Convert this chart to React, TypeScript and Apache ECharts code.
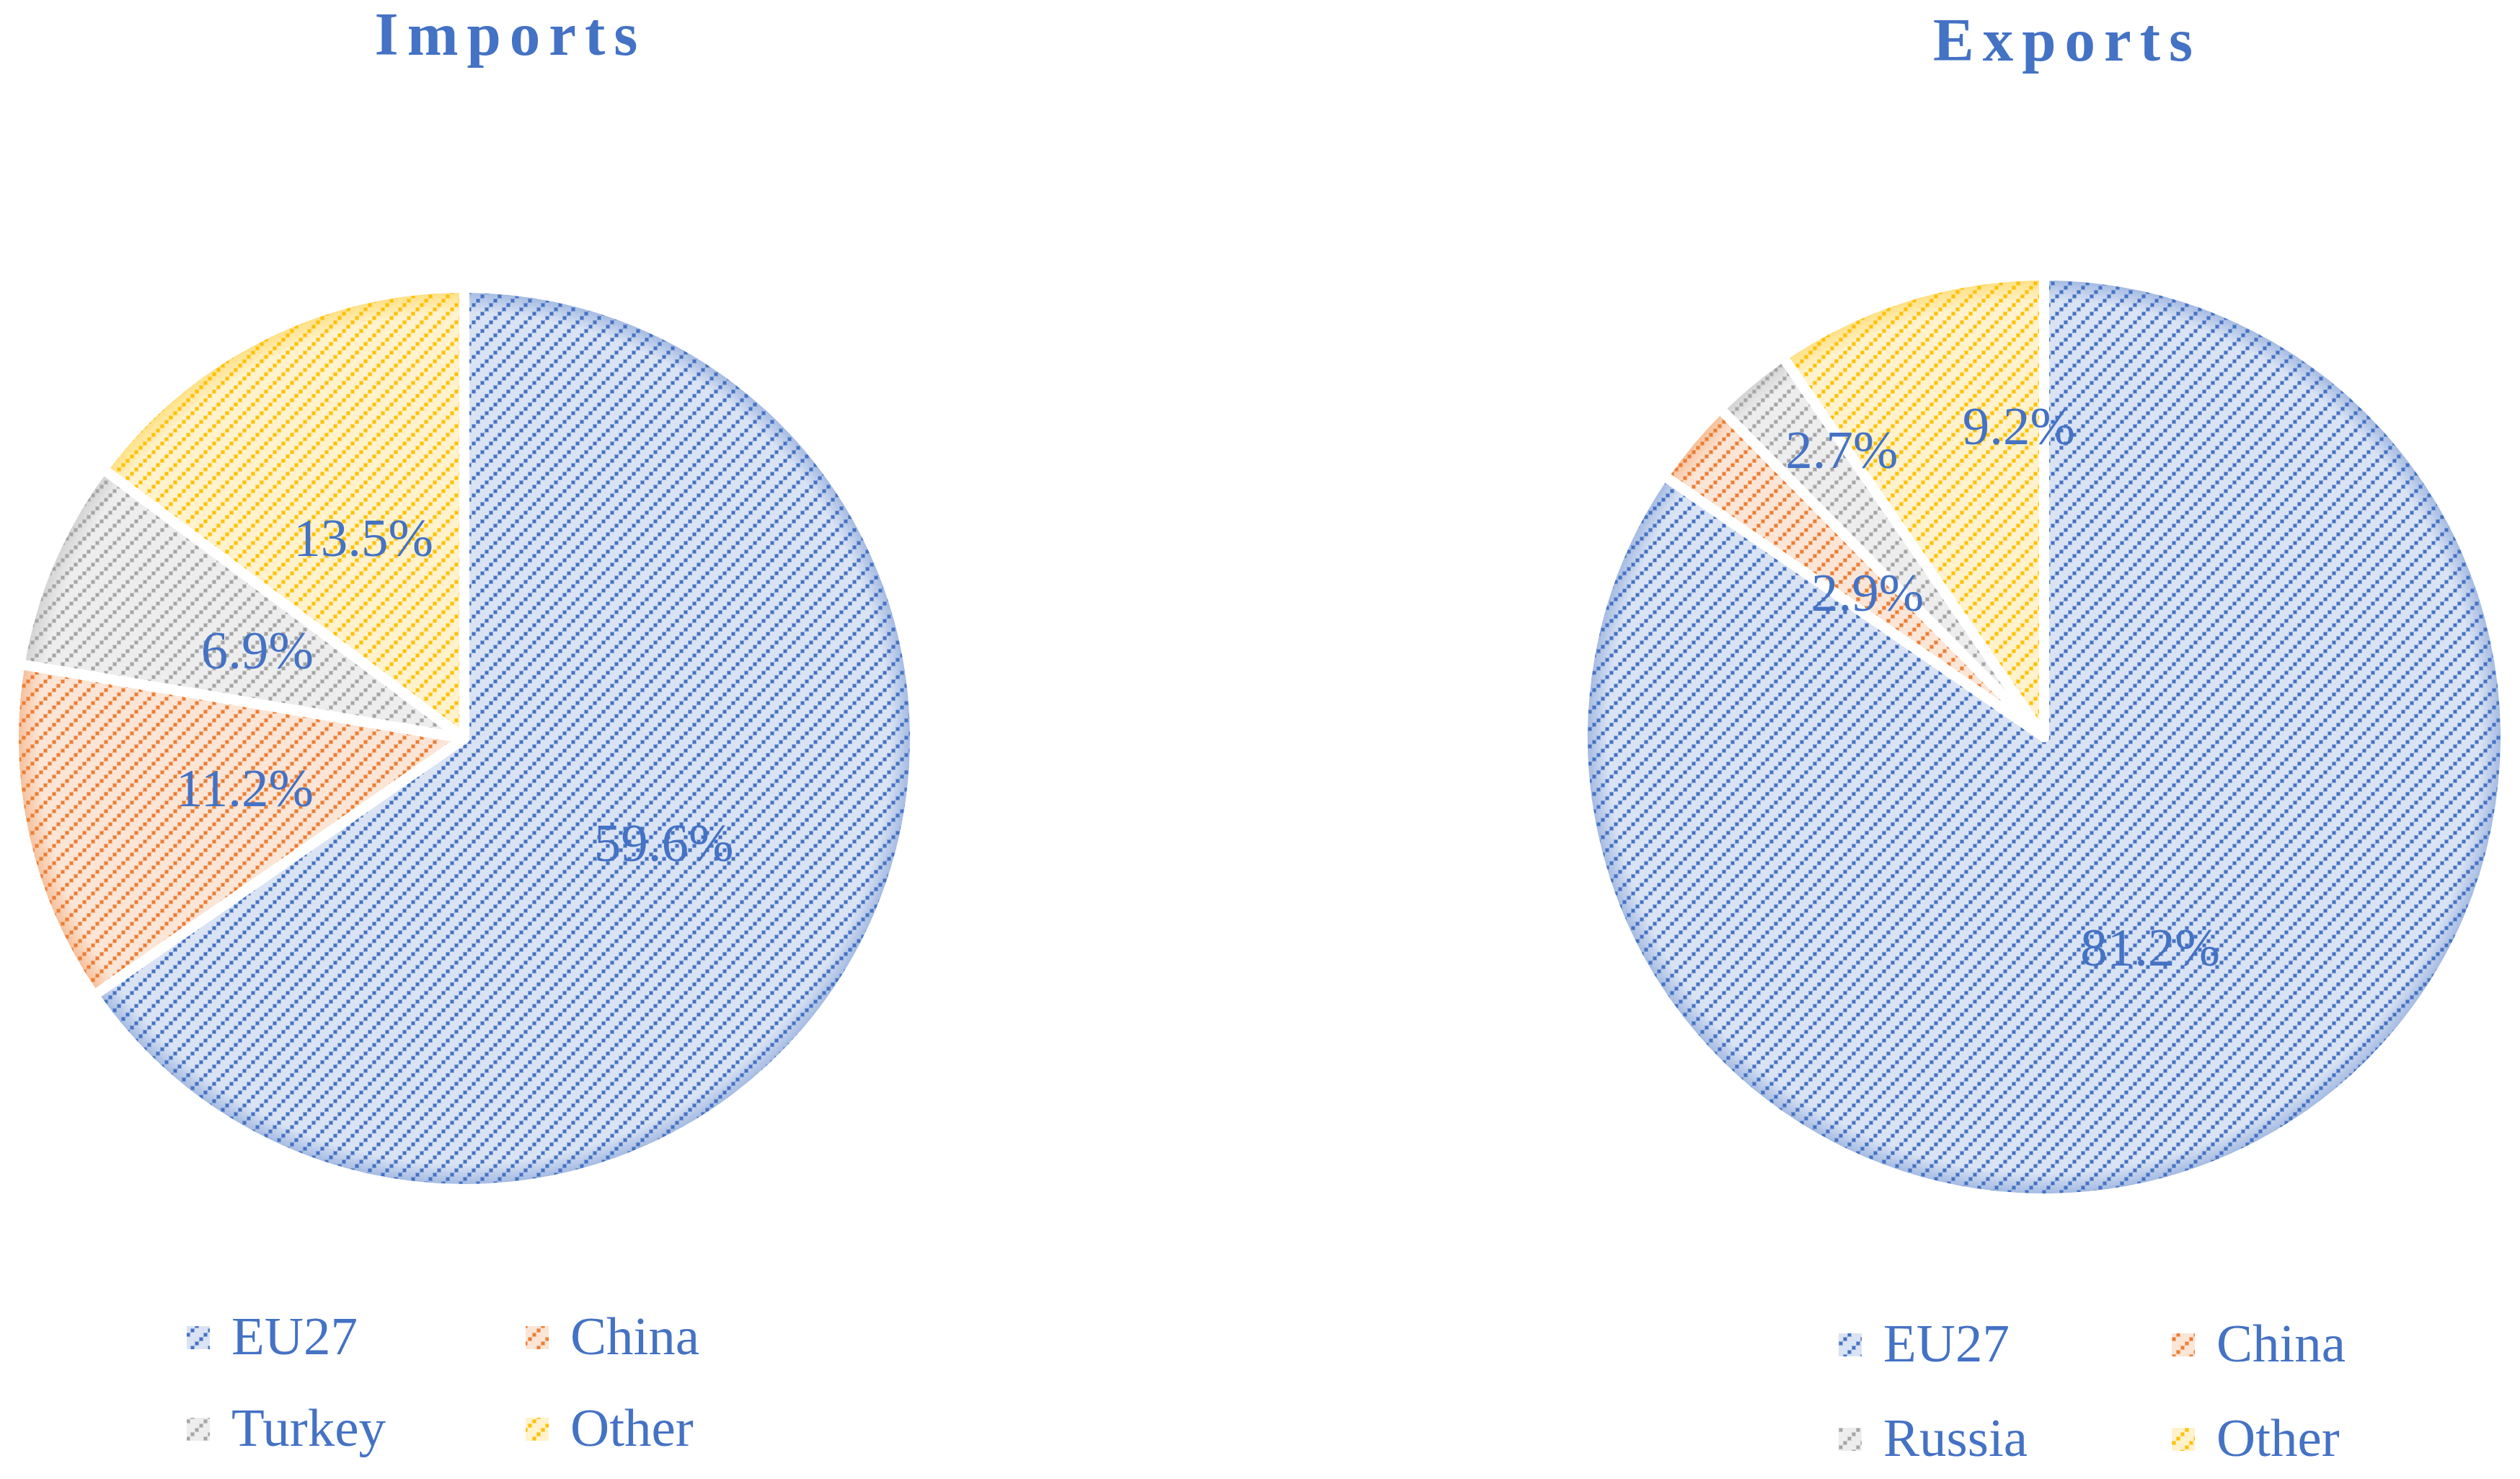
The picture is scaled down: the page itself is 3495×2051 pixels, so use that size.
import React, { useEffect, useRef } from 'react';
import * as echarts from 'echarts';

// ---------- data ----------
const chartTitles = ['Imports', 'Exports'];
const importCategories = ['EU27', 'China', 'Turkey', 'Other'];
const importValues = [59.6, 11.2, 6.9, 13.5];
const exportCategories = ['EU27', 'China', 'Russia', 'Other'];
const exportValues = [81.2, 2.9, 2.7, 9.2];

// ---------- styling ----------
const sliceDark = ['#4472c4', '#ed7d31', '#a5a5a5', '#ffc000'];
const sliceLight = ['#dae3f3', '#fbe5d6', '#ededed', '#fff2cc'];
const TEXT_BLUE = '#4472c4';
const FONT = '"Liberation Serif", "Times New Roman", serif';
const GAP = 14;

// label placement (fraction of radius, angular shift in degrees)
const importLabelPlace = [
  { f: 0.505, da: 0 },
  { f: 0.505, da: 0 },
  { f: 0.505, da: 0 },
  { f: 0.505, da: 0 },
];
const exportLabelPlace = [
  { f: 0.516, da: 1 },
  { f: 0.5, da: -0.6 },
  { f: 0.77, da: 4.4 },
  { f: 0.684, da: 12.6 },
];

function makeTile(bg: string, fg: string) {
  const w = 24;
  const h = 24;
  const c = document.createElement('canvas');
  c.width = w;
  c.height = h;
  const g = c.getContext('2d')!;
  g.fillStyle = bg;
  g.fillRect(0, 0, w, h);
  const dots = [
    [0, 18],
    [6, 12],
    [12, 6],
    [18, 0],
  ];
  dots.forEach(([x, y]) => {
    g.globalAlpha = 0.5;
    g.fillStyle = fg;
    g.fillRect(x, y, 6, 6);
    g.globalAlpha = 1;
    g.fillRect(x + 1, y + 1, 4, 4);
  });
  return { image: c.toDataURL(), imageWidth: w, imageHeight: h, repeat: 'repeat' };
}

function rgba(hex: string, a: number) {
  const n = parseInt(hex.slice(1), 16);
  return `rgba(${(n >> 16) & 255},${(n >> 8) & 255},${n & 255},${a})`;
}

function midAngles(values: number[]) {
  const total = values.reduce((s, v) => s + v, 0);
  let acc = 0;
  return values.map((v) => {
    const start = acc;
    acc += (v / total) * 360;
    return (start + acc) / 2;
  });
}

function buildPie(
  cats: string[],
  vals: number[],
  center: [number, number],
  visR: number,
  place: { f: number; da: number }[],
  tiles: any[]
) {
  const mids = midAngles(vals);
  const R = visR + GAP / 2;
  const common = {
    type: 'pie',
    center,
    radius: R,
    startAngle: 90,
    clockwise: true,
    silent: true,
    avoidLabelOverlap: false,
    emphasis: { disabled: true },
    labelLine: { show: false },
  };
  const base = {
    ...common,
    z: 2,
    label: { show: false },
    data: cats.map((c, i) => ({
      name: c,
      value: vals[i],
      itemStyle: { color: tiles[i], borderColor: '#ffffff', borderWidth: GAP },
    })),
  };
  const overlay = {
    ...common,
    z: 3,
    label: {
      show: true,
      position: 'inside',
      fontFamily: FONT,
      fontSize: 75,
      color: TEXT_BLUE,
      formatter: (p: any) => `${Number(p.value).toFixed(1)}%`,
    },
    labelLayout: (p: any) => {
      const i = p.dataIndex;
      const a = ((mids[i] + place[i].da) * Math.PI) / 180;
      const r = place[i].f * visR;
      return {
        x: center[0] + r * Math.sin(a),
        y: center[1] - r * Math.cos(a),
        align: 'center',
        verticalAlign: 'middle',
      };
    },
    data: cats.map((c, i) => ({
      name: c,
      value: vals[i],
      itemStyle: {
        color: {
          type: 'radial',
          x: center[0],
          y: center[1],
          r: visR,
          global: true,
          colorStops: [
            { offset: 0, color: rgba(sliceDark[i], 0) },
            { offset: 0.955, color: rgba(sliceDark[i], 0) },
            { offset: 1, color: rgba(sliceDark[i], 0.35) },
          ],
        },
        borderColor: '#ffffff',
        borderWidth: GAP,
      },
    })),
  };
  return [base, overlay];
}

function buildLegend(
  cats: string[],
  tiles: any[],
  origin: [number, number],
  colStep: number,
  rowStep: number
) {
  const els: any[] = [];
  cats.forEach((c, i) => {
    const col = i % 2;
    const row = Math.floor(i / 2);
    const mx = origin[0] + col * colStep;
    const my = origin[1] + row * rowStep;
    els.push({
      type: 'rect',
      shape: { x: mx, y: my, width: 32, height: 32 },
      style: { fill: tiles[i] },
      silent: true,
    });
    els.push({
      type: 'text',
      x: mx + 62,
      y: my + 13,
      silent: true,
      style: {
        text: c,
        fill: TEXT_BLUE,
        fontFamily: FONT,
        fontSize: 75,
        textAlign: 'left',
        align: 'left',
        textVerticalAlign: 'middle',
        verticalAlign: 'middle',
      },
    });
  });
  return els;
}

export default function App() {
  const ref = useRef<HTMLDivElement>(null);

  useEffect(() => {
    document.body.style.margin = '0';
    if (!ref.current) return;
    const chart = echarts.init(ref.current, undefined, { renderer: 'svg' });
    const tiles = sliceDark.map((d, i) => makeTile(sliceLight[i], d));

    const importCenter: [number, number] = [644, 1024];
    const exportCenter: [number, number] = [2835, 1022];

    const titleEls = [
      { text: chartTitles[0], x: 708, y: 4 },
      { text: chartTitles[1], x: 2867, y: 12 },
    ].map((t) => ({
      type: 'text',
      x: t.x,
      y: t.y,
      silent: true,
      style: {
        text: t.text,
        fill: TEXT_BLUE,
        fontFamily: FONT,
        fontWeight: 'bold',
        fontSize: 85,
        textAlign: 'center',
        align: 'center',
        textVerticalAlign: 'top',
        verticalAlign: 'top',
      },
    }));

    const option: any = {
      animation: false,
      backgroundColor: '#ffffff',
      series: [
        ...buildPie(importCategories, importValues, importCenter, 618, importLabelPlace, tiles),
        ...buildPie(exportCategories, exportValues, exportCenter, 633, exportLabelPlace, tiles),
      ],
      graphic: [
        ...titleEls,
        ...buildLegend(importCategories, tiles, [259, 1839], 470, 127),
        ...buildLegend(exportCategories, tiles, [2550, 1849], 462, 131),
      ],
    };
    chart.setOption(option);

    // letter-spaced titles, as in the reference
    const spaceTitles = () => {
      ref.current?.querySelectorAll('text').forEach((t) => {
        if (chartTitles.includes((t.textContent || '').trim())) {
          (t as SVGTextElement).style.letterSpacing = '12px';
        }
      });
    };
    spaceTitles();
    chart.on('finished', spaceTitles);

    return () => chart.dispose();
  }, []);

  return <div ref={ref} style={{ width: 3495, height: 2051, overflow: 'hidden' }} />;
}
